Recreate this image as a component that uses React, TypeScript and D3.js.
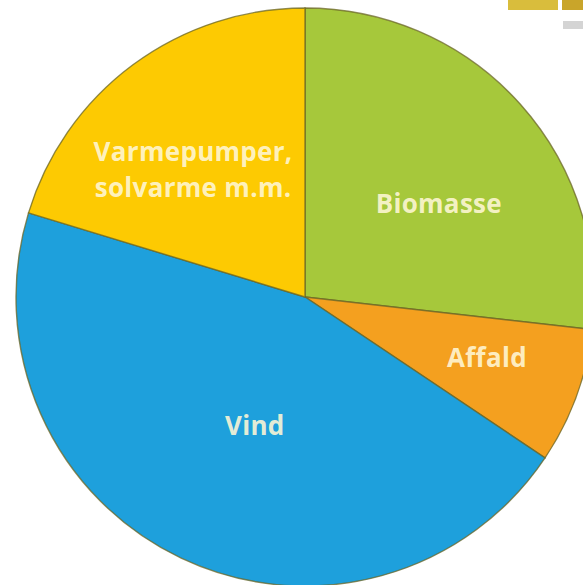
import * as d3 from "d3";

// share of renewable energy by source
const sources = ["Biomasse", "Affald", "Vind", "Varmepumper"];
const shares = [26.8, 7.6, 45.3, 20.3];
const labels = [["Biomasse"], ["Affald"], ["Vind"], ["Varmepumper,", "solvarme m.m."]];

const colors: Record<string, string> = {
  Biomasse: "#a6c83b",
  Affald: "#f4a01f",
  Vind: "#1ea0dc",
  Varmepumper: "#fdca02",
};

// label anchors as [angle fraction through slice, radius fraction]
const labelPos: Record<string, [number, number]> = {
  Biomasse: [0.572, 0.564],
  Affald: [0.44, 0.664],
  Vind: [0.475, 0.478],
  Varmepumper: [0.434, 0.586],
};

export default function App() {
  const width = 583;
  const height = 585;
  const cx = 305;
  const cy = 297;
  const radius = 289;

  const data = sources.map((name, i) => ({ name, value: shares[i], lines: labels[i] }));
  const arcs = d3
    .pie<(typeof data)[number]>()
    .sort(null)
    .value((d) => d.value)(data);
  const arc = d3.arc<d3.PieArcDatum<(typeof data)[number]>>().innerRadius(0).outerRadius(radius);

  return (
    <svg
      width={width}
      height={height}
      style={{ position: "absolute", left: 0, top: 0, background: "#fff" }}
    >
      {/* clipped legend fragment at the top right corner */}
      <rect x={508} y={0} width={50} height={10} fill="#d9bd3c" />
      <rect x={562} y={0} width={21} height={10} fill="#c9a52a" />
      <rect x={563} y={21} width={20} height={8} fill="#c9c9c9" opacity={0.8} />

      <g transform={`translate(${cx},${cy})`}>
        {arcs.map((a) => (
          <path
            key={a.data.name}
            d={arc(a) ?? ""}
            fill={colors[a.data.name]}
            stroke="#6a6625"
            strokeOpacity={0.75}
            strokeWidth={1.4}
          />
        ))}
        {arcs.map((a) => {
          const [f, rf] = labelPos[a.data.name];
          const ang = a.startAngle + (a.endAngle - a.startAngle) * f;
          const x = Math.sin(ang) * radius * rf;
          const y = -Math.cos(ang) * radius * rf;
          const lh = 36;
          const y0 = y - ((a.data.lines.length - 1) * lh) / 2;
          return (
            <text
              key={`t-${a.data.name}`}
              textAnchor="middle"
              fontFamily="'Open Sans', sans-serif"
              fontWeight={700}
              fontSize={26}
              letterSpacing={0.3}
              fill="#fff7d6"
              fillOpacity={0.9}
            >
              {a.data.lines.map((line, j) => (
                <tspan key={j} x={x} y={y0 + j * lh} dy="0.36em">
                  {line}
                </tspan>
              ))}
            </text>
          );
        })}
      </g>
    </svg>
  );
}
